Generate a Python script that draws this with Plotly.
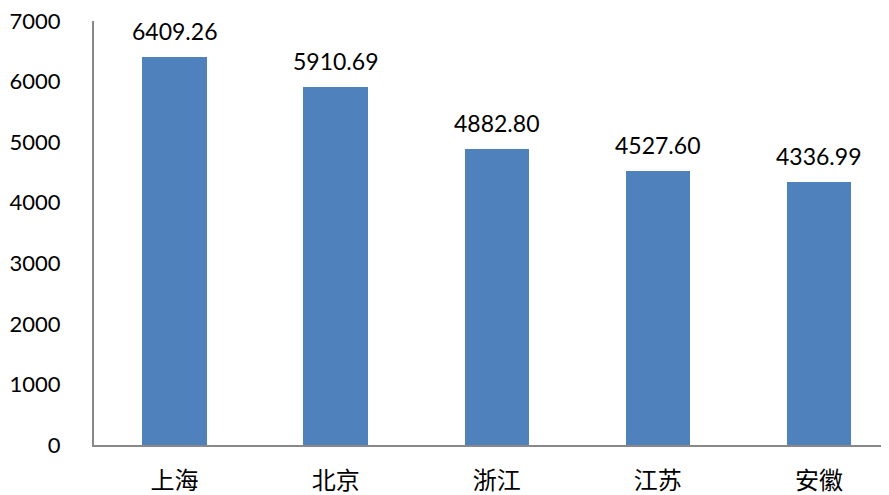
import plotly.graph_objects as go

provinces = ["上海", "北京", "浙江", "江苏", "安徽"]
values = [6409.26, 5910.69, 4882.80, 4527.60, 4336.99]
value_labels = ["6409.26", "5910.69", "4882.80", "4527.60", "4336.99"]
y_ticks = [0, 1000, 2000, 3000, 4000, 5000, 6000, 7000]

NUM_FONT = "Lato, Open Sans, sans-serif"

fig = go.Figure()
fig.add_trace(go.Bar(
    x=list(range(len(provinces))),
    y=values,
    width=0.40,
    marker=dict(color="#4F81BD", line=dict(width=0)),
    hoverinfo="skip",
))

for i, (v, t) in enumerate(zip(values, value_labels)):
    fig.add_annotation(x=i, y=v, text=t, showarrow=False, yanchor="bottom",
                       yshift=10, font=dict(family=NUM_FONT, size=23, color="#000000"))

fig.update_layout(
    width=881, height=487,
    margin=dict(l=86, r=0, t=13, b=50, autoexpand=False),
    paper_bgcolor="white", plot_bgcolor="white",
    showlegend=False,
    bargap=0,
)
fig.update_xaxes(
    range=[-0.5, 4.435],
    tickvals=list(range(len(provinces))),
    ticktext=provinces,
    tickfont=dict(family="Noto Sans CJK SC", size=24, color="#000000"),
    showline=True, linecolor="#888888", linewidth=2,
    showgrid=False, zeroline=False, ticks="",
    ticklabelstandoff=13,
    ticklabeloverflow="allow",
    automargin=False,
)
fig.update_yaxes(
    range=[0, 7000],
    tickvals=y_ticks,
    ticktext=[str(v) for v in y_ticks],
    tickfont=dict(family=NUM_FONT, size=22, color="#000000"),
    showline=True, linecolor="#888888", linewidth=2,
    showgrid=False, zeroline=False, ticks="",
    ticklabelstandoff=27,
    ticklabeloverflow="allow",
    automargin=False,
)

fig.write_html("out.html")
